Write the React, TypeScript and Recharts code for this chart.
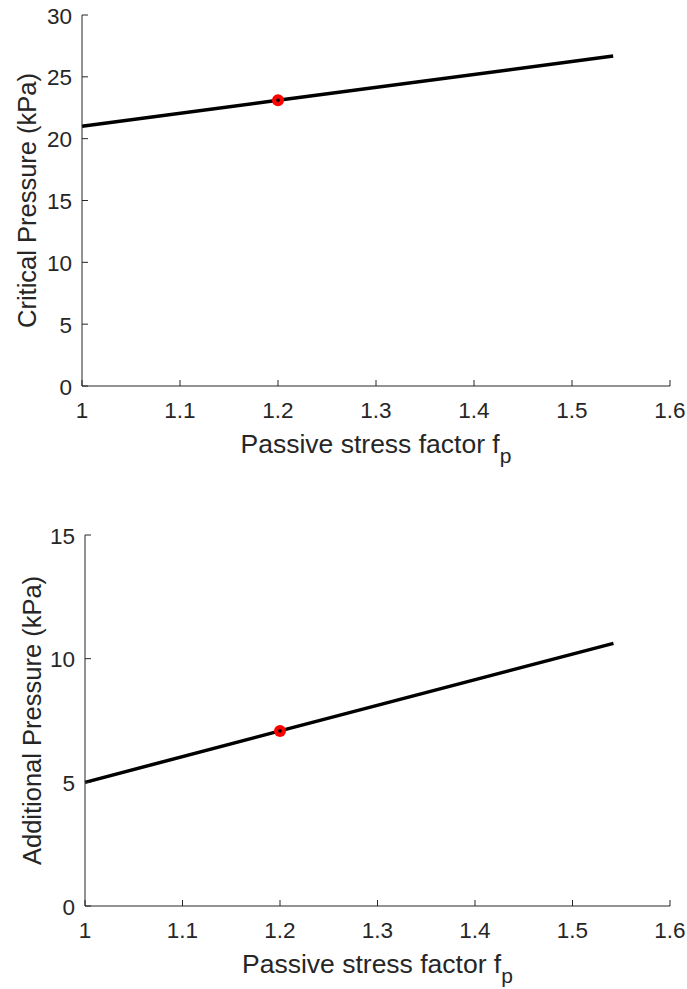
import React from "react";
import { LineChart, Line, XAxis, YAxis, Label } from "recharts";

const fpValues = [1, 1.2, 1.542];
const criticalPressure = [21.0, 23.1, 26.68];
const additionalPressure = [5.0, 7.08, 10.62];
const markerFp = 1.2;

const xTicks = [1, 1.1, 1.2, 1.3, 1.4, 1.5, 1.6];
const topYTicks = [0, 5, 10, 15, 20, 25, 30];
const bottomYTicks = [0, 5, 10, 15];

const AXIS = "#262626";
const FONT = "'Liberation Sans', Arial, Helvetica, sans-serif";

const topData = fpValues.map((fp, i) => ({ fp, value: criticalPressure[i] }));
const bottomData = fpValues.map((fp, i) => ({ fp, value: additionalPressure[i] }));

function XTick(props: any) {
  const { x, y, payload } = props;
  return (
    <g>
      <line x1={x} y1={y} x2={x} y2={y - 6} stroke={AXIS} strokeWidth={1} />
      <text x={x} y={y + 32} textAnchor="middle" fill={AXIS} fontSize={22.5} fontFamily={FONT}>
        {String(payload.value)}
      </text>
    </g>
  );
}

function YTick(props: any) {
  const { x, y, payload } = props;
  return (
    <g>
      <line x1={x} y1={y} x2={x + 6} y2={y} stroke={AXIS} strokeWidth={1} />
      <text x={x - 10} y={y + 8.5} textAnchor="end" fill={AXIS} fontSize={22.5} fontFamily={FONT}>
        {String(payload.value)}
      </text>
    </g>
  );
}

function renderDot(props: any) {
  const { cx, cy, payload, index } = props;
  if (payload.fp !== markerFp) return <g key={`d${index}`} />;
  return (
    <g key={`d${index}`}>
      <circle cx={cx} cy={cy} r={6} fill="#ff0000" stroke="none" />
      <circle cx={cx} cy={cy} r={1.8} fill="#000" stroke="none" />
    </g>
  );
}

function xLabel(props: any) {
  const vb = props.viewBox;
  return (
    <text
      x={vb.x + vb.width / 2}
      y={vb.y + 67}
      textAnchor="middle"
      fill={AXIS}
      fontSize={26.5}
      fontFamily={FONT}
    >
      Passive stress factor f
      <tspan fontSize={21} dy={10}>
        p
      </tspan>
    </text>
  );
}

function yLabel(text: string, baseX: number) {
  return (props: any) => {
    const vb = props.viewBox;
    const cy = vb.y + vb.height / 2;
    return (
      <text
        x={baseX}
        y={cy}
        transform={`rotate(-90, ${baseX}, ${cy})`}
        textAnchor="middle"
        fill={AXIS}
        fontSize={25.5}
        fontFamily={FONT}
      >
        {text}
      </text>
    );
  };
}

interface PanelProps {
  data: { fp: number; value: number }[];
  yMax: number;
  yTicks: number[];
  yTitle: string;
  titleX: number;
  height: number;
  margin: { top: number; right: number; left: number; bottom: number };
}

function Panel({ data, yMax, yTicks, yTitle, titleX, height, margin }: PanelProps) {
  return (
    <LineChart width={687} height={height} data={data} margin={margin}>
      <XAxis
        dataKey="fp"
        type="number"
        domain={[1, 1.6]}
        ticks={xTicks}
        height={60}
        tickSize={0}
        tickMargin={0}
        tickLine={false}
        axisLine={{ stroke: AXIS, strokeWidth: 1 }}
        tick={<XTick />}
        interval={0}
      >
        <Label content={xLabel} />
      </XAxis>
      <YAxis
        type="number"
        domain={[0, yMax]}
        ticks={yTicks}
        width={60}
        tickSize={0}
        tickMargin={0}
        tickLine={false}
        axisLine={{ stroke: AXIS, strokeWidth: 1 }}
        tick={<YTick />}
        interval={0}
      >
        <Label content={yLabel(yTitle, titleX)} />
      </YAxis>
      <Line
        type="linear"
        dataKey="value"
        stroke="#000"
        strokeWidth={3.5}
        dot={renderDot}
        activeDot={false}
        isAnimationActive={false}
      />
    </LineChart>
  );
}

export default function App() {
  return (
    <div style={{ position: "absolute", left: 0, top: 0, width: 687, height: 989, background: "#fff" }}>
      <div style={{ position: "absolute", left: 0, top: 0 }}>
        <Panel
          data={topData}
          yMax={30}
          yTicks={topYTicks}
          yTitle="Critical Pressure (kPa)"
          titleX={36}
          height={494}
          margin={{ top: 15, right: 17, left: 22, bottom: 48 }}
        />
      </div>
      <div style={{ position: "absolute", left: 0, top: 494 }}>
        <Panel
          data={bottomData}
          yMax={15}
          yTicks={bottomYTicks}
          yTitle="Additional Pressure (kPa)"
          titleX={41}
          height={495}
          margin={{ top: 41, right: 17, left: 25, bottom: 23 }}
        />
      </div>
    </div>
  );
}
